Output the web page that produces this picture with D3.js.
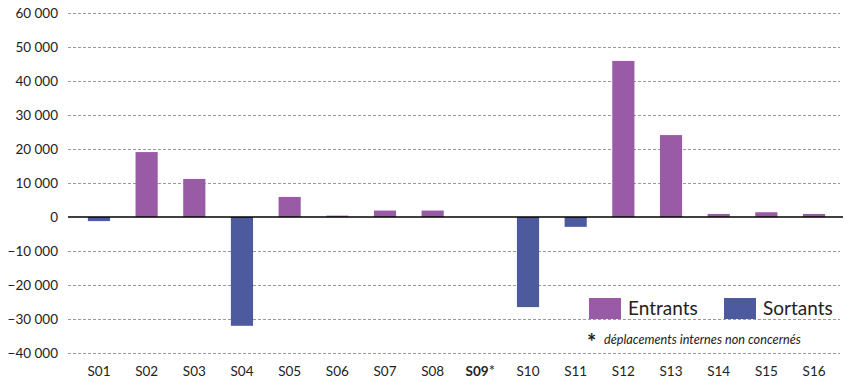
<!DOCTYPE html>
<html><head><meta charset="utf-8">
<script src="https://cdn.jsdelivr.net/npm/d3@7"></script>
<style>body{margin:0;background:#fff}svg{display:block;font-family:Lato,"Open Sans",sans-serif}</style>
</head><body><svg id="c" width="856" height="380"></svg>
<script>
const categories = ["S01","S02","S03","S04","S05","S06","S07","S08","S09","S10","S11","S12","S13","S14","S15","S16"];
const entrants = [null,19100,11200,null,5900,400,1900,1900,null,null,null,45900,24100,900,1400,900];
const sortants = [-1200,null,null,-32000,null,null,null,null,null,-26500,-2900,null,null,null,null,null];
const yTicks = [60000,50000,40000,30000,20000,10000,0,-10000,-20000,-30000,-40000];
const legendLabels = ["Entrants","Sortants"];
const footnote = "déplacements internes non concernés";
const colors = {entrants:"#9a5ba6", sortants:"#4e5a9e"};

const svg = d3.select("#c");
const x = d3.scaleBand().domain(categories).range([75,838]).paddingInner(0.535).paddingOuter(0.27);
const y = d3.scaleLinear().domain([-40000,60000]).range([353,13]);

// gridlines
svg.append("g").selectAll("line").data(yTicks.filter(d=>d!==0)).join("line")
  .attr("x1",68).attr("x2",840).attr("y1",d=>y(d)+0.5).attr("y2",d=>y(d)+0.5)
  .attr("stroke","#9a9a9a").attr("stroke-width",1).attr("stroke-dasharray","3,2");

// y axis labels
const yAxis = d3.axisLeft(y).tickValues(yTicks).tickSize(0).tickPadding(0).tickFormat(d=>d3.format(",")(d).replace(/,/g," "));
const ga = svg.append("g").attr("transform","translate(58,0)").call(yAxis);
ga.select(".domain").remove();
ga.selectAll("text").attr("font-size",13.5).attr("fill","#222").attr("font-family","Lato,'Open Sans',sans-serif");

// bars
const bw = x.bandwidth();
svg.append("g").selectAll("rect").data(categories.map((c,i)=>({c,v:entrants[i]})).filter(d=>d.v!=null)).join("rect")
  .attr("x",d=>x(d.c)).attr("width",bw).attr("y",d=>y(d.v)).attr("height",d=>y(0)-y(d.v)).attr("fill",colors.entrants);
svg.append("g").selectAll("rect").data(categories.map((c,i)=>({c,v:sortants[i]})).filter(d=>d.v!=null)).join("rect")
  .attr("x",d=>x(d.c)).attr("width",bw).attr("y",y(0)).attr("height",d=>y(d.v)-y(0)).attr("fill",colors.sortants);

// zero line
svg.append("line").attr("x1",68).attr("x2",843).attr("y1",y(0)).attr("y2",y(0)).attr("stroke","#000").attr("stroke-width",1.3);

// x labels
const xAxis = d3.axisBottom(x).tickSize(0).tickPadding(0);
const gx = svg.append("g").attr("transform","translate(0,366)").call(xAxis);
gx.select(".domain").remove();
gx.selectAll("text").attr("font-size",13.5).attr("fill","#222").attr("font-family","Lato,'Open Sans',sans-serif")
  .each(function(d){ if(d==="S09"){ const t=d3.select(this); t.text(null); t.append("tspan").attr("font-weight","bold").text("S09"); t.append("tspan").attr("font-size",15).text("*"); } });

// legend
const lg = svg.append("g");
[[589,legendLabels[0],colors.entrants],[724,legendLabels[1],colors.sortants]].forEach(([lx,t,c])=>{
  lg.append("rect").attr("x",lx).attr("y",298).attr("width",32).attr("height",21).attr("fill",c);
  lg.append("text").attr("x",lx+39).attr("y",315).attr("font-size",19).attr("fill","#222").text(t);
});
svg.append("text").attr("x",587).attr("y",350).attr("font-size",22).attr("font-weight","bold").attr("fill","#222").text("*");
svg.append("text").attr("x",604).attr("y",344).attr("font-size",12.7).attr("font-style","italic").attr("fill","#222").text(footnote);
</script></body></html>
